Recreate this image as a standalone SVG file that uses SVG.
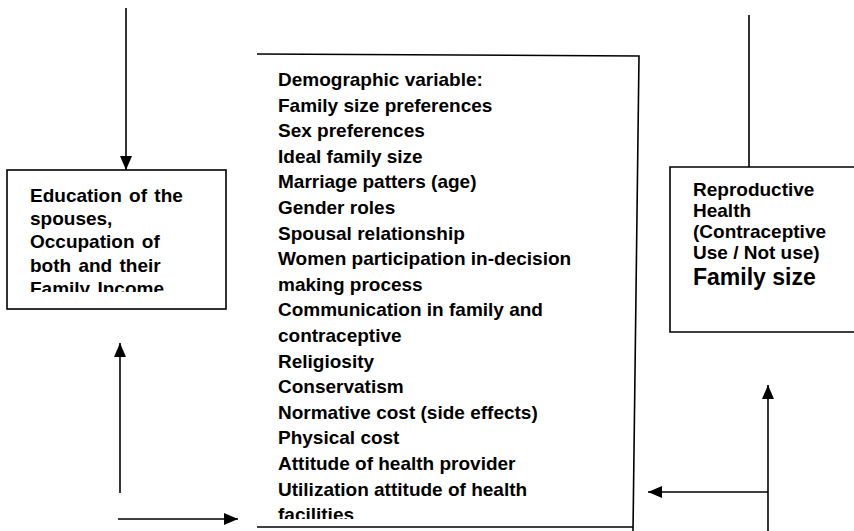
<svg xmlns="http://www.w3.org/2000/svg" width="854" height="531" viewBox="0 0 854 531">
<style>
.box{fill:#fff;stroke:#000;stroke-width:1.6}
.t{font-family:"Liberation Sans",Arial,sans-serif;font-weight:bold;font-size:19px;fill:#000}
.ws{word-spacing:2px}
.big{font-size:23px}
.c{fill:none;stroke:#000;stroke-width:1.6}
</style>
<defs>
<marker id="ah" markerUnits="userSpaceOnUse" markerWidth="14" markerHeight="12" refX="14" refY="6" orient="auto">
<path d="M0,0 L14,6 L0,12 z" fill="#000"/>
</marker>
<clipPath id="clipL"><rect x="0" y="160" width="240" height="132"/></clipPath>
<clipPath id="clipC"><rect x="250" y="50" width="400" height="469"/></clipPath>
</defs>
<rect width="854" height="531" fill="#fff"/>
<g id="connectors">
<line class="c" x1="126" y1="8" x2="126" y2="170" marker-end="url(#ah)"/>
<line class="c" x1="749" y1="15" x2="749" y2="167"/>
<line class="c" x1="120" y1="493" x2="120" y2="343" marker-end="url(#ah)"/>
<line class="c" x1="118" y1="519" x2="238" y2="519" marker-end="url(#ah)"/>
<line class="c" x1="768" y1="531" x2="768" y2="385" marker-end="url(#ah)"/>
<line class="c" x1="768" y1="492" x2="648" y2="492" marker-end="url(#ah)"/>
</g>
<g id="socio">
<rect class="box" x="7" y="170" width="219" height="139"/>
<g clip-path="url(#clipL)">
<text class="t ws" x="30" y="202">Education of the</text>
<text class="t ws" x="30" y="225">spouses,</text>
<text class="t ws" x="30" y="248">Occupation of</text>
<text class="t ws" x="30" y="272">both and their</text>
<text class="t ws" x="30" y="295">Family Income</text>
</g>
</g>
<g id="demographic">
<path class="box" d="M257,54 L639,56 L633,531 M633,527 L257,527 Z"/>
<g clip-path="url(#clipC)">
<text class="t" x="278" y="86">Demographic variable:</text>
<text class="t" x="278" y="111.6">Family size preferences</text>
<text class="t" x="278" y="137.2">Sex preferences</text>
<text class="t" x="278" y="162.8">Ideal family size</text>
<text class="t" x="278" y="188.4">Marriage patters (age)</text>
<text class="t" x="278" y="214">Gender roles</text>
<text class="t" x="278" y="239.6">Spousal relationship</text>
<text class="t" x="278" y="265.2">Women participation in-decision</text>
<text class="t" x="278" y="290.8">making process</text>
<text class="t" x="278" y="316.4">Communication in family and</text>
<text class="t" x="278" y="342">contraceptive</text>
<text class="t" x="278" y="367.6">Religiosity</text>
<text class="t" x="278" y="393.2">Conservatism</text>
<text class="t" x="278" y="418.8">Normative cost (side effects)</text>
<text class="t" x="278" y="444.4">Physical cost</text>
<text class="t" x="278" y="470">Attitude of health provider</text>
<text class="t" x="278" y="495.6">Utilization attitude of health</text>
<text class="t" x="278" y="521.2">facilities</text>
</g>
</g>
<g id="outcome">
<path class="box" d="M860,167 L670,167 L670,332 L860,332"/>
<text class="t" x="693" y="196">Reproductive</text>
<text class="t" x="693" y="217">Health</text>
<text class="t" x="693" y="238">(Contraceptive</text>
<text class="t" x="693" y="259">Use / Not use)</text>
<text class="t big" x="693" y="285">Family size</text>
</g>
</svg>
